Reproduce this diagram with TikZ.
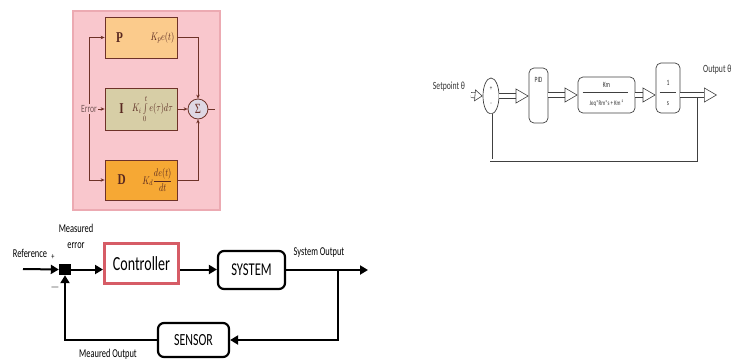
\documentclass[tikz,border=0pt]{standalone}
\usepackage{fontspec}
\setmainfont{Carlito}[FakeStretch=0.7]
\newfontfamily\pidserif{Liberation Serif}[FakeStretch=0.75]
\usepackage{graphicx}
\usetikzlibrary{arrows.meta,shapes.geometric}
\definecolor{pinkbg}{RGB}{249,199,205}
\definecolor{pinkedge}{RGB}{236,170,178}
\definecolor{pcol}{RGB}{251,203,140}
\definecolor{icol}{RGB}{215,206,166}
\definecolor{dcol}{RGB}{246,168,52}
\definecolor{pidbrown}{RGB}{110,50,40}
\definecolor{sumfill}{RGB}{222,216,228}
\definecolor{ctrlred}{RGB}{214,92,102}
\definecolor{errgray}{RGB}{120,90,90}
\newcommand{\nm}[1]{\scalebox{0.75}[1]{#1}}
\begin{document}
\begin{tikzpicture}[x=1pt,y=-1pt,
  pidbox/.style={draw=pidbrown,line width=0.8pt,minimum width=72pt,minimum height=41pt,inner sep=0pt},
  pidletter/.style={font=\pidserif\bfseries\fontsize{15}{17}\selectfont,text=pidbrown!80!black,inner sep=0pt},
  pidmath/.style={font=\fontsize{11}{13}\selectfont,text=pidbrown!80!black,inner sep=0pt},
  pidline/.style={draw=pidbrown,line width=0.8pt},
  pidarr/.style={pidline,-{Stealth[length=4pt,width=3.5pt]}},
  blk/.style={draw,line width=2.2pt,rounded corners=6pt,inner sep=0pt},
  lbl/.style={inner sep=0pt,font=\fontsize{12}{16}\selectfont,align=center},
  thk/.style={line width=2pt,-{Triangle[length=8pt,width=9pt]}},
  rbox/.style={draw=black!75,line width=0.7pt,rounded corners=5pt,inner sep=0pt},
  rtxt/.style={inner sep=0pt,font=\fontsize{8}{10}\selectfont,text=black!80},
  hollow/.style={draw=black!75,line width=0.6pt,double=white,double distance=4.5pt,-{Triangle[open,length=13pt,width=15pt]}},
  dblline/.style={draw=black!75,line width=0.6pt,double=white,double distance=1.8pt}]
\useasboundingbox (0,0) rectangle (731,360);
% PID controller
\draw[fill=pinkbg,draw=pinkedge,line width=1.2pt] (73,11) rectangle (220,210);
\node[pidbox,fill=pcol] (pbox) at (141,37.5) {};
\node[pidbox,fill=icol,minimum height=42pt] (ibox) at (141,109) {};
\node[pidbox,fill=dcol,minimum height=40pt] (dbox) at (141,180) {};
\node[circle,draw=pidbrown,fill=sumfill,line width=0.8pt,minimum size=20pt,inner sep=0pt,font=\pidserif\fontsize{14}{14}\selectfont,text=pidbrown] (sumc) at (198,109) {Σ};
\node[pidletter] (plet) at ([xshift=15pt]pbox.west) {P};
\node[pidmath] (pterm) at ([xshift=-15pt]pbox.east) {\nm{$K_p e(t)$}};
\node[pidletter] (ilet) at ([xshift=17pt]ibox.west) {I};
\node[pidmath] (iterm) at ([xshift=-25pt]ibox.east) {\nm{$K_i\int\limits_0^t e(\tau)d\tau$}};
\node[pidletter] (dlet) at ([xshift=17pt]dbox.west) {D};
\node[pidmath] (dterm) at ([xshift=-20pt]dbox.east) {\nm{$K_d{\displaystyle\frac{de(t)}{dt}}$}};
\node[inner sep=1pt,fill=pinkbg,text=errgray,font=\fontsize{11}{13}\selectfont] (errlbl) at (89,109) {Error};
\coordinate (sumout) at (215,109);
\draw[pidarr] (errlbl.east) -- (ibox.west);
\draw[pidarr] (errlbl.north) -- (errlbl.north |- pbox.west) -- (pbox.west);
\draw[pidarr] (errlbl.south) -- (errlbl.south |- dbox.west) -- (dbox.west);
\draw[pidarr] (pbox.east) -- (sumc.north |- pbox.east) -- (sumc.north);
\draw[pidarr] (ibox.east) -- (sumc.west);
\draw[pidarr] (dbox.east) -- (sumc.south |- dbox.east) -- (sumc.south);
\draw[pidline] (sumc.east) -- (sumout);
% feedback loop
\node[lbl] (reflbl) at (30,253) {Reference};
\coordinate (refin) at (23,269);
\node[fill=black,minimum width=12pt,minimum height=11pt,inner sep=0pt] (errsq) at (65,269.5) {};
\node[lbl,font=\fontsize{9}{9}\selectfont] (plus) at (53,257) {+};
\node[lbl,font=\fontsize{12}{12}\selectfont] (minus) at (55,287) {$-$};
\node[lbl] (measerr) at (76,236) {Measured\\error};
\node[draw=ctrlred,line width=3pt,minimum width=74pt,minimum height=40pt,inner sep=0pt,font=\fontsize{20}{20}\selectfont] (ctrl) at (141.5,263.5) {Controller};
\node[blk,minimum width=67pt,minimum height=38pt,font=\fontsize{18}{18}\selectfont] (sys) at (251.5,270) {SYSTEM};
\node[blk,minimum width=71pt,minimum height=34pt,font=\fontsize{17}{17}\selectfont] (sens) at (193.5,340) {SENSOR};
\node[lbl] (syslbl) at (319,253) {System Output};
\node[lbl] (measout) at (108,354) {Meaured Output};
\coordinate (sysout) at (368,270);
\coordinate (tap) at (338,270);
\draw[thk] (refin) -- (errsq.west);
\draw[thk] (errsq.east) -- (ctrl.west |- errsq.east);
\draw[thk] (ctrl.east |- errsq.east) -- (sys.west |- errsq.east);
\draw[thk] (sys.east) -- (sysout);
\draw[thk] (tap) -- (tap |- sens.east) -- (sens.east);
\draw[thk] (sens.west) -- (errsq.south |- sens.west) -- (errsq.south);
% motor position loop
\node[lbl,font=\fontsize{11}{13}\selectfont,text=black!80] (setlbl) at (449,87) {Setpoint θ};
\coordinate (setin) at (471,95);
\node[ellipse,draw=black!75,line width=0.7pt,minimum width=16pt,minimum height=36pt,inner sep=0pt] (sumel) at (491,96) {};
\node[rtxt,font=\fontsize{7}{7}\selectfont] (splus) at ([yshift=7pt]sumel.center) {+};
\node[rtxt,font=\fontsize{7}{7}\selectfont] (sminus) at ([yshift=-8pt]sumel.center) {-};
\node[rbox,minimum width=19pt,minimum height=55pt] (pid) at (538.5,95.5) {};
\node[rtxt] (pidlbl) at ([yshift=-12pt]pid.north) {PID};
\node[rbox,minimum width=57pt,minimum height=36pt] (km) at (606.5,95) {};
\node[rtxt] (kmnum) at ([yshift=10pt]km.center) {Km};
\node[rtxt,font=\fontsize{7}{8}\selectfont] (kmden) at ([yshift=-8pt]km.center) {Jeq*Rm*s + Km ²};
\node[rbox,minimum width=24pt,minimum height=50pt] (one) at (668,88) {};
\node[rtxt] (onenum) at ([yshift=5pt]one.center) {1};
\node[rtxt] (oneden) at ([yshift=-16pt]one.center) {s};
\node[lbl,anchor=west,font=\fontsize{11}{13}\selectfont,text=black!80] (outlbl) at (703,70) {Output θ};
\coordinate (outend) at (717,95);
\coordinate (fbtop) at (696,97.5);
\coordinate (fbbot) at (696,160);
\draw[black!75,line width=0.6pt] ([xshift=5pt,yshift=3pt]km.west) -- ([xshift=-7pt,yshift=3pt]km.east);
\draw[black!75,line width=0.6pt] ([xshift=4pt,yshift=-4pt]one.west) -- ([xshift=-4pt,yshift=-4pt]one.east);
\draw[hollow,-{Triangle[open,length=8pt,width=12pt]}] (setin) -- (sumel.west);
\draw[hollow] (sumel.east) -- (pid.west |- sumel.east);
\draw[hollow] (pid.east |- km.west) -- (km.west);
\draw[hollow] (km.east) -- (one.west |- km.east);
\draw[hollow] (one.east |- km.east) -- (outend);
\draw[dblline] (fbtop) -- (fbbot) -- (sumel.south |- fbbot) -- (sumel.south);
\end{tikzpicture}
\end{document}
